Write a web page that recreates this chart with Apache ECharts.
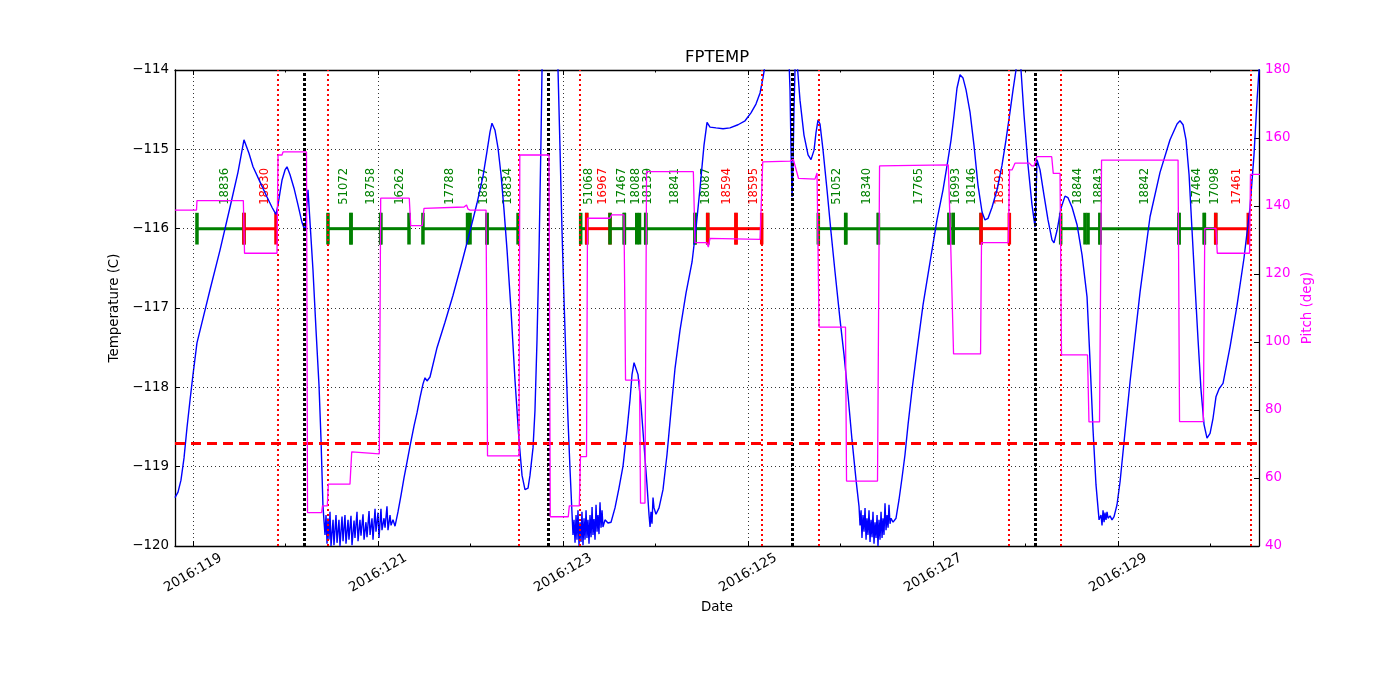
<!DOCTYPE html>
<html><head><meta charset="utf-8">
<script src="https://cdn.jsdelivr.net/npm/echarts@6/dist/echarts.min.js"></script>
<style>html,body{margin:0;padding:0;background:#fff}#c{width:1400px;height:700px}</style>
</head><body><div id="c"></div>
<script>
// ---- axis ticks (day of year 2016) ----
const majorTickDays = [119, 121, 123, 125, 127, 129];
const minorTickDays = [120, 122, 124, 126, 128, 130];
const dayMin = 118.8054, dayMax = 130.524;

// ---- FPTEMP (day, deg C) ----
const tempSeries = [
[118.805,-119.39],[118.838,-119.32],[118.870,-119.17],[118.903,-118.89],[118.935,-118.51],[118.968,-118.16],[119.000,-117.84],[119.043,-117.44],
[119.108,-117.13],[119.184,-116.77],[119.292,-116.27],[119.400,-115.73],[119.486,-115.29],[119.551,-114.88],[119.605,-115.05],[119.649,-115.22],
[119.724,-115.41],[119.800,-115.60],[119.854,-115.73],[119.897,-115.82],[119.919,-115.70],[119.941,-115.54],[119.962,-115.39],[119.995,-115.26],
[120.016,-115.22],[120.049,-115.32],[120.092,-115.49],[120.135,-115.70],[120.178,-115.92],[120.211,-116.03],[120.227,-115.76],[120.243,-115.51],
[120.265,-115.92],[120.297,-116.52],[120.330,-117.28],[120.362,-117.97],[120.384,-118.66],[120.405,-119.50],
[120.427,-119.86],[120.438,-119.61],[120.449,-119.97],[120.459,-119.65],[120.470,-119.92],[120.481,-119.57],[120.492,-120.00],[120.514,-119.67],
[120.524,-119.99],[120.546,-119.61],[120.557,-119.96],[120.578,-119.67],[120.589,-120.00],[120.611,-119.63],[120.622,-119.94],[120.643,-119.61],
[120.654,-119.97],[120.676,-119.67],[120.686,-119.92],[120.708,-119.62],[120.719,-119.99],[120.741,-119.68],[120.751,-119.90],[120.773,-119.57],
[120.784,-119.94],[120.805,-119.67],[120.816,-119.87],[120.838,-119.60],[120.849,-119.92],[120.870,-119.70],[120.881,-119.89],[120.903,-119.56],
[120.914,-119.86],[120.935,-119.65],[120.946,-119.92],[120.968,-119.53],[120.978,-119.82],[121.000,-119.58],[121.011,-119.90],[121.032,-119.53],
[121.043,-119.80],[121.065,-119.65],[121.076,-119.77],[121.097,-119.50],[121.108,-119.80],[121.130,-119.61],[121.141,-119.74],[121.162,-119.67],
[121.184,-119.75],[121.216,-119.57],[121.249,-119.36],[121.281,-119.14],[121.314,-118.94],[121.346,-118.74],[121.389,-118.49],[121.422,-118.32],
[121.454,-118.13],[121.486,-117.96],[121.508,-117.88],[121.530,-117.92],[121.562,-117.87],[121.638,-117.50],[121.724,-117.18],[121.811,-116.84],
[121.908,-116.42],[121.995,-116.03],[122.070,-115.68],[122.135,-115.34],[122.178,-115.03],[122.211,-114.78],[122.232,-114.67],[122.265,-114.76],
[122.297,-114.98],[122.330,-115.32],[122.362,-115.76],[122.395,-116.27],[122.438,-117.03],[122.481,-117.91],[122.524,-118.66],[122.557,-119.11],
[122.589,-119.29],[122.622,-119.27],[122.643,-119.11],[122.676,-118.76],[122.697,-118.29],[122.719,-117.40],[122.741,-116.27],[122.762,-114.88],
[122.773,-114.00],[122.784,-113.24],[122.860,-112.50],[122.935,-113.24],[122.946,-114.00],[122.968,-115.01],[122.989,-116.02],[123.011,-116.90],
[123.032,-117.66],[123.054,-118.41],[123.076,-119.04],[123.097,-119.58],
[123.108,-119.86],[123.119,-119.67],[123.130,-119.96],[123.141,-119.61],[123.151,-119.92],[123.162,-119.55],[123.173,-120.00],[123.184,-119.70],
[123.195,-119.95],[123.205,-119.57],[123.216,-119.99],[123.227,-119.65],[123.238,-119.92],[123.249,-119.55],[123.259,-119.90],[123.270,-119.67],
[123.281,-119.97],[123.292,-119.61],[123.303,-119.89],[123.314,-119.51],[123.324,-119.86],[123.335,-119.66],[123.346,-119.92],[123.357,-119.48],
[123.368,-119.82],[123.378,-119.61],[123.389,-119.85],[123.400,-119.45],[123.411,-119.77],[123.422,-119.55],[123.432,-119.76],
[123.454,-119.67],[123.486,-119.71],[123.519,-119.70],[123.562,-119.52],[123.605,-119.27],[123.649,-118.99],[123.692,-118.54],[123.724,-118.16],
[123.746,-117.84],[123.768,-117.69],[123.789,-117.71],[123.811,-117.84],[123.843,-118.22],[123.876,-118.73],[123.908,-119.23],[123.930,-119.61],
[123.941,-119.76],[123.951,-119.57],[123.962,-119.72],[123.973,-119.39],[123.984,-119.52],[124.005,-119.60],[124.038,-119.52],[124.081,-119.29],
[124.124,-118.85],[124.168,-118.29],[124.211,-117.76],[124.265,-117.28],[124.330,-116.81],[124.395,-116.42],[124.438,-115.99],[124.481,-115.49],
[124.524,-114.95],[124.557,-114.66],[124.589,-114.72],[124.654,-114.73],[124.730,-114.74],[124.805,-114.73],[124.892,-114.69],[124.968,-114.64],
[125.032,-114.54],[125.086,-114.43],[125.130,-114.29],[125.162,-114.10],[125.184,-113.94],[125.216,-113.50],[125.346,-111.90],[125.432,-113.50],
[125.454,-114.25],[125.465,-115.01],[125.476,-115.60],[125.486,-115.20],[125.497,-114.50],[125.508,-114.00],[125.519,-113.85],[125.530,-113.90],
[125.562,-114.38],[125.605,-114.82],[125.649,-115.07],[125.681,-115.13],[125.714,-115.01],[125.735,-114.79],[125.757,-114.63],[125.778,-114.68],
[125.811,-115.01],[125.854,-115.51],[125.897,-116.04],[125.941,-116.55],[125.995,-117.15],[126.038,-117.59],[126.081,-118.10],[126.124,-118.66],
[126.168,-119.17],[126.200,-119.50],
[126.211,-119.74],[126.222,-119.55],[126.232,-119.90],[126.243,-119.61],[126.254,-119.82],[126.265,-119.52],[126.276,-119.92],[126.286,-119.65],
[126.297,-119.86],[126.308,-119.55],[126.319,-119.95],[126.330,-119.67],[126.341,-119.89],[126.351,-119.57],[126.362,-119.97],[126.373,-119.70],
[126.384,-119.90],[126.395,-119.61],[126.405,-120.00],[126.416,-119.67],[126.427,-119.92],[126.438,-119.57],[126.449,-119.90],[126.459,-119.65],
[126.470,-119.86],[126.481,-119.46],[126.492,-119.80],[126.503,-119.61],[126.514,-119.77],[126.524,-119.48],[126.535,-119.72],[126.546,-119.65],
[126.568,-119.70],[126.600,-119.65],[126.632,-119.42],[126.665,-119.14],[126.697,-118.85],[126.730,-118.47],[126.773,-118.03],[126.827,-117.53],
[126.892,-116.96],[126.968,-116.42],[127.043,-115.89],[127.108,-115.51],[127.162,-115.13],[127.195,-114.88],[127.227,-114.57],[127.259,-114.23],
[127.292,-114.06],[127.324,-114.10],[127.357,-114.25],[127.400,-114.53],[127.443,-114.95],[127.486,-115.45],[127.530,-115.79],[127.562,-115.89],
[127.595,-115.87],[127.638,-115.73],[127.692,-115.51],[127.746,-115.20],[127.789,-114.88],[127.832,-114.53],[127.865,-114.25],[127.897,-114.00],
[127.919,-113.68],[127.935,-113.62],[127.951,-114.00],[127.984,-114.57],[128.027,-115.20],[128.070,-115.70],[128.103,-115.98],[128.114,-115.58],
[128.124,-115.13],[128.157,-115.26],[128.200,-115.58],[128.243,-115.89],[128.286,-116.14],[128.308,-116.18],[128.341,-116.02],[128.384,-115.74],
[128.427,-115.59],[128.459,-115.61],[128.503,-115.73],[128.557,-115.95],[128.611,-116.33],[128.665,-116.86],[128.697,-117.66],[128.730,-118.54],
[128.762,-119.23],[128.795,-119.67],
[128.816,-119.61],[128.827,-119.74],[128.838,-119.55],[128.849,-119.70],[128.859,-119.58],[128.870,-119.67],[128.881,-119.57],[128.892,-119.65],
[128.914,-119.62],[128.935,-119.67],[128.957,-119.63],
[128.989,-119.48],[129.022,-119.19],[129.076,-118.56],[129.130,-117.93],[129.238,-116.80],[129.346,-115.85],[129.454,-115.29],[129.562,-114.88],
[129.638,-114.68],[129.670,-114.64],[129.703,-114.69],[129.735,-114.88],[129.768,-115.32],[129.800,-116.02],[129.832,-116.71],[129.865,-117.40],
[129.897,-118.03],[129.930,-118.47],[129.962,-118.64],[129.995,-118.58],[130.027,-118.39],[130.059,-118.12],[130.092,-118.02],[130.135,-117.95],
[130.211,-117.49],[130.286,-116.97],[130.362,-116.37],[130.427,-115.73],[130.470,-115.07],[130.503,-114.38],[130.524,-114.00],[130.557,-113.50]
];

// ---- Pitch (day, deg) ----
const pitchSeries = [
[118.805,138.8],[119.038,138.8],[119.043,141.6],[119.544,141.6],[119.557,126.1],[119.908,126.1],[119.919,155.0],[119.962,155.0],
[119.973,155.9],[120.227,155.9],[120.238,49.8],[120.391,49.8],[120.400,51.8],[120.452,51.8],[120.463,58.2],[120.697,58.2],
[120.716,67.7],[121.014,67.1],[121.029,142.3],[121.338,142.3],[121.354,134.2],[121.479,134.2],[121.497,139.3],[121.930,139.7],
[121.957,140.3],[121.973,139.1],[121.995,138.8],[122.168,138.8],[122.184,66.5],[122.524,66.5],[122.533,155.0],[122.849,155.0],
[122.862,48.6],[123.057,48.6],[123.068,51.8],[123.176,51.8],[123.189,66.3],[123.254,66.3],[123.265,136.4],[123.508,136.4],
[123.526,137.4],[123.659,137.4],[123.676,88.8],[123.827,88.8],[123.838,52.6],[123.886,52.6],[123.903,150.1],[124.409,150.1],
[124.427,129.2],[124.554,129.2],[124.571,127.9],[124.589,130.5],[125.130,130.2],[125.159,153.0],[125.454,153.2],[125.490,153.7],
[125.546,148.1],[125.724,147.9],[125.746,149.7],[125.757,149.7],[125.768,104.4],[126.054,104.4],[126.065,59.1],[126.400,59.1],
[126.422,151.8],[127.165,152.1],[127.189,131.0],[127.205,131.0],[127.222,96.5],[127.514,96.5],[127.524,129.2],[127.814,129.2],
[127.827,150.6],[127.854,150.6],[127.886,152.6],[128.041,152.6],[128.067,151.8],[128.092,151.8],[128.121,154.5],[128.283,154.5],
[128.300,149.6],[128.373,149.6],[128.389,96.2],[128.670,96.2],[128.686,76.5],[128.800,76.5],[128.822,153.5],[129.649,153.5],
[129.665,76.6],[129.922,76.6],[129.938,133.4],[130.059,133.4],[130.073,126.1],[130.422,126.1],[130.432,149.3],[130.535,149.3]
];

// ---- observations ----
const obsStart = [119.043,119.551,120.459,120.708,121.029,121.486,121.995,122.178,123.191,123.256,123.508,123.663,123.827,123.894,124.427,124.564,124.870,125.760,126.056,126.409,127.173,127.219,127.519,128.380,128.676,128.805,129.659,129.933,130.056];
const obsEnd   = [119.551,119.897,120.708,121.029,121.335,121.968,122.178,122.514,123.256,123.508,123.663,123.797,123.894,124.427,124.564,124.870,125.148,126.056,126.409,127.173,127.219,127.519,127.825,128.643,128.805,129.659,129.933,130.056,130.408];
const obsLabel = ['18836','18830','51072','18758','16262','17788','18837','18834','51068','16967','17467','18088','18139','18841','18087','18594','18595','51052','18340','17765','16993','18146','18592','18844','18843','18842','17464','17098','17461'];
const obsKind  = ['g','r','g','g','g','g','g','g','g','r','g','g','g','g','g','r','r','g','g','g','g','g','r','g','g','g','g','g','r'];
const obsLevel = -116.0;
const obsTickHalf = 0.2;
const obsLabelLevel = -115.70;

// ---- reference lines ----
const redLineDays = [119.919,120.459,122.524,123.184,125.151,125.757,127.822,128.384,130.427];
const blackLineDays = [120.200,122.838,125.476,128.103];
const limitTemp = -118.7;

const FONT = 'DejaVu Sans';
const GREEN = '#008000', RED = '#ff0000', BLUE = '#0000ff', MAG = '#ff00ff';

const chart = echarts.init(document.getElementById('c'), null, {renderer: 'canvas'});

function tickAxis(pos, values, len, showLine) {
  return {
    type: 'value', position: pos, min: dayMin, max: dayMax, gridIndex: 0,
    axisLine: {show: showLine, onZero: false, lineStyle: {color: '#000', width: 1.3}},
    axisTick: {show: true, inside: true, length: len, customValues: values, lineStyle: {color: '#000', width: 1}},
    axisLabel: {show: false}, splitLine: {show: false}
  };
}

const option = {
  animation: false,
  backgroundColor: '#fff',
  title: {text: 'FPTEMP', left: 685, top: 49, padding: 0,
    textStyle: {fontFamily: FONT, fontSize: 16.5, fontWeight: 'normal', color: '#000'}},
  grid: {left: 175, top: 70, right: 141, bottom: 154, containLabel: false},
  xAxis: [
    {
      type: 'value', position: 'bottom', min: dayMin, max: dayMax,
      name: 'Date', nameLocation: 'middle', nameGap: 55,
      nameTextStyle: {fontFamily: FONT, fontSize: 13.4, color: '#000'},
      axisLine: {show: true, onZero: false, lineStyle: {color: '#000', width: 1.3}},
      axisTick: {show: true, inside: true, length: 5, customValues: majorTickDays, lineStyle: {color: '#000'}},
      axisLabel: {show: true, customValues: majorTickDays, rotate: 30, align: 'center', verticalAlign: 'middle',
        margin: 27, fontFamily: FONT, fontSize: 13.4, color: '#000',
        formatter: v => '2016:' + Math.round(v)},
      splitLine: {show: false}
    },
    tickAxis('bottom', minorTickDays, 2.5, false),
    tickAxis('top', majorTickDays, 5, true),
    tickAxis('top', minorTickDays, 2.5, false)
  ],
  yAxis: [
    {
      type: 'value', position: 'left', min: -120, max: -114, interval: 1,
      name: 'Temperature (C)', nameLocation: 'middle', nameGap: 44,
      nameTextStyle: {fontFamily: FONT, fontSize: 13.4, color: '#000'},
      axisLine: {show: true, onZero: false, lineStyle: {color: '#000', width: 1.3}},
      axisTick: {show: true, inside: true, length: 5, lineStyle: {color: '#000'}},
      axisLabel: {margin: 6, fontFamily: FONT, fontSize: 13.4, color: '#000',
        formatter: v => (v < 0 ? '\u2212' : '') + Math.abs(v)},
      splitLine: {show: true, lineStyle: {color: '#000', width: 0.8, type: [1, 3]}}
    },
    {
      type: 'value', position: 'right', min: 40, max: 180, interval: 20,
      name: 'Pitch (deg)', nameLocation: 'middle', nameGap: 31,
      nameTextStyle: {fontFamily: FONT, fontSize: 13.4, color: MAG},
      axisLine: {show: true, onZero: false, lineStyle: {color: '#000', width: 1.3}},
      axisTick: {show: true, inside: true, length: 5, lineStyle: {color: '#000'}},
      axisLabel: {margin: 6, fontFamily: FONT, fontSize: 13.4, color: MAG},
      splitLine: {show: false}
    }
  ],
  series: [
    {
      type: 'line', xAxisIndex: 0, yAxisIndex: 0, data: [], z: 1, silent: true,
      markLine: {symbol: ['none', 'none'], silent: true, label: {show: false}, animation: false,
        lineStyle: {color: '#000', width: 0.8, type: [1, 3]},
        data: majorTickDays.map(d => ({xAxis: d}))}
    },
    {
      type: 'custom', coordinateSystem: 'cartesian2d', xAxisIndex: 0, yAxisIndex: 0, z: 2, silent: true,
      data: obsStart.map((s, i) => [s, obsEnd[i], obsLevel]),
      encode: {x: [0, 1], y: 2},
      renderItem: function (params, api) {
        const i = params.dataIndex;
        const s = api.coord([api.value(0), api.value(2)]);
        const e = api.coord([api.value(1), api.value(2)]);
        const top = api.coord([api.value(0), api.value(2) + obsTickHalf])[1];
        const bot = api.coord([api.value(0), api.value(2) - obsTickHalf])[1];
        const lab = api.coord([(api.value(0) + api.value(1)) / 2, obsLabelLevel]);
        const col = obsKind[i] === 'r' ? RED : GREEN;
        return {type: 'group', children: [
          {type: 'line', shape: {x1: s[0], y1: s[1], x2: e[0], y2: e[1]}, style: {stroke: col, lineWidth: 3}},
          {type: 'line', shape: {x1: s[0], y1: top, x2: s[0], y2: bot}, style: {stroke: col, lineWidth: 3.5}},
          {type: 'line', shape: {x1: e[0], y1: top, x2: e[0], y2: bot}, style: {stroke: col, lineWidth: 3.5}},
          {type: 'text', x: lab[0] + 5, y: lab[1], rotation: Math.PI / 2,
            style: {text: obsLabel[i], fill: col, fontFamily: FONT, fontSize: 11.6, align: 'left', verticalAlign: 'middle'}}
        ]};
      }
    },
    {
      type: 'line', name: 'FPTEMP', xAxisIndex: 0, yAxisIndex: 0, data: tempSeries,
      showSymbol: false, symbol: 'none', clip: true, z: 3, silent: true,
      lineStyle: {color: BLUE, width: 1.4}
    },
    {
      type: 'line', xAxisIndex: 0, yAxisIndex: 0, data: [], z: 4, silent: true,
      markLine: {symbol: ['none', 'none'], silent: true, label: {show: false}, animation: false,
        data: [].concat(
          redLineDays.map(d => ({xAxis: d, lineStyle: {color: RED, width: 2, type: [2, 3]}})),
          blackLineDays.map(d => ({xAxis: d, lineStyle: {color: '#000', width: 3, type: [3, 2]}})),
          [{yAxis: limitTemp, lineStyle: {color: RED, width: 3, type: [10, 6]}}]
        )}
    },
    {
      type: 'line', name: 'Pitch', xAxisIndex: 0, yAxisIndex: 1, data: pitchSeries,
      showSymbol: false, symbol: 'none', clip: true, z: 5, silent: true,
      lineStyle: {color: MAG, width: 1.3}
    }
  ]
};
chart.setOption(option);
</script></body></html>
